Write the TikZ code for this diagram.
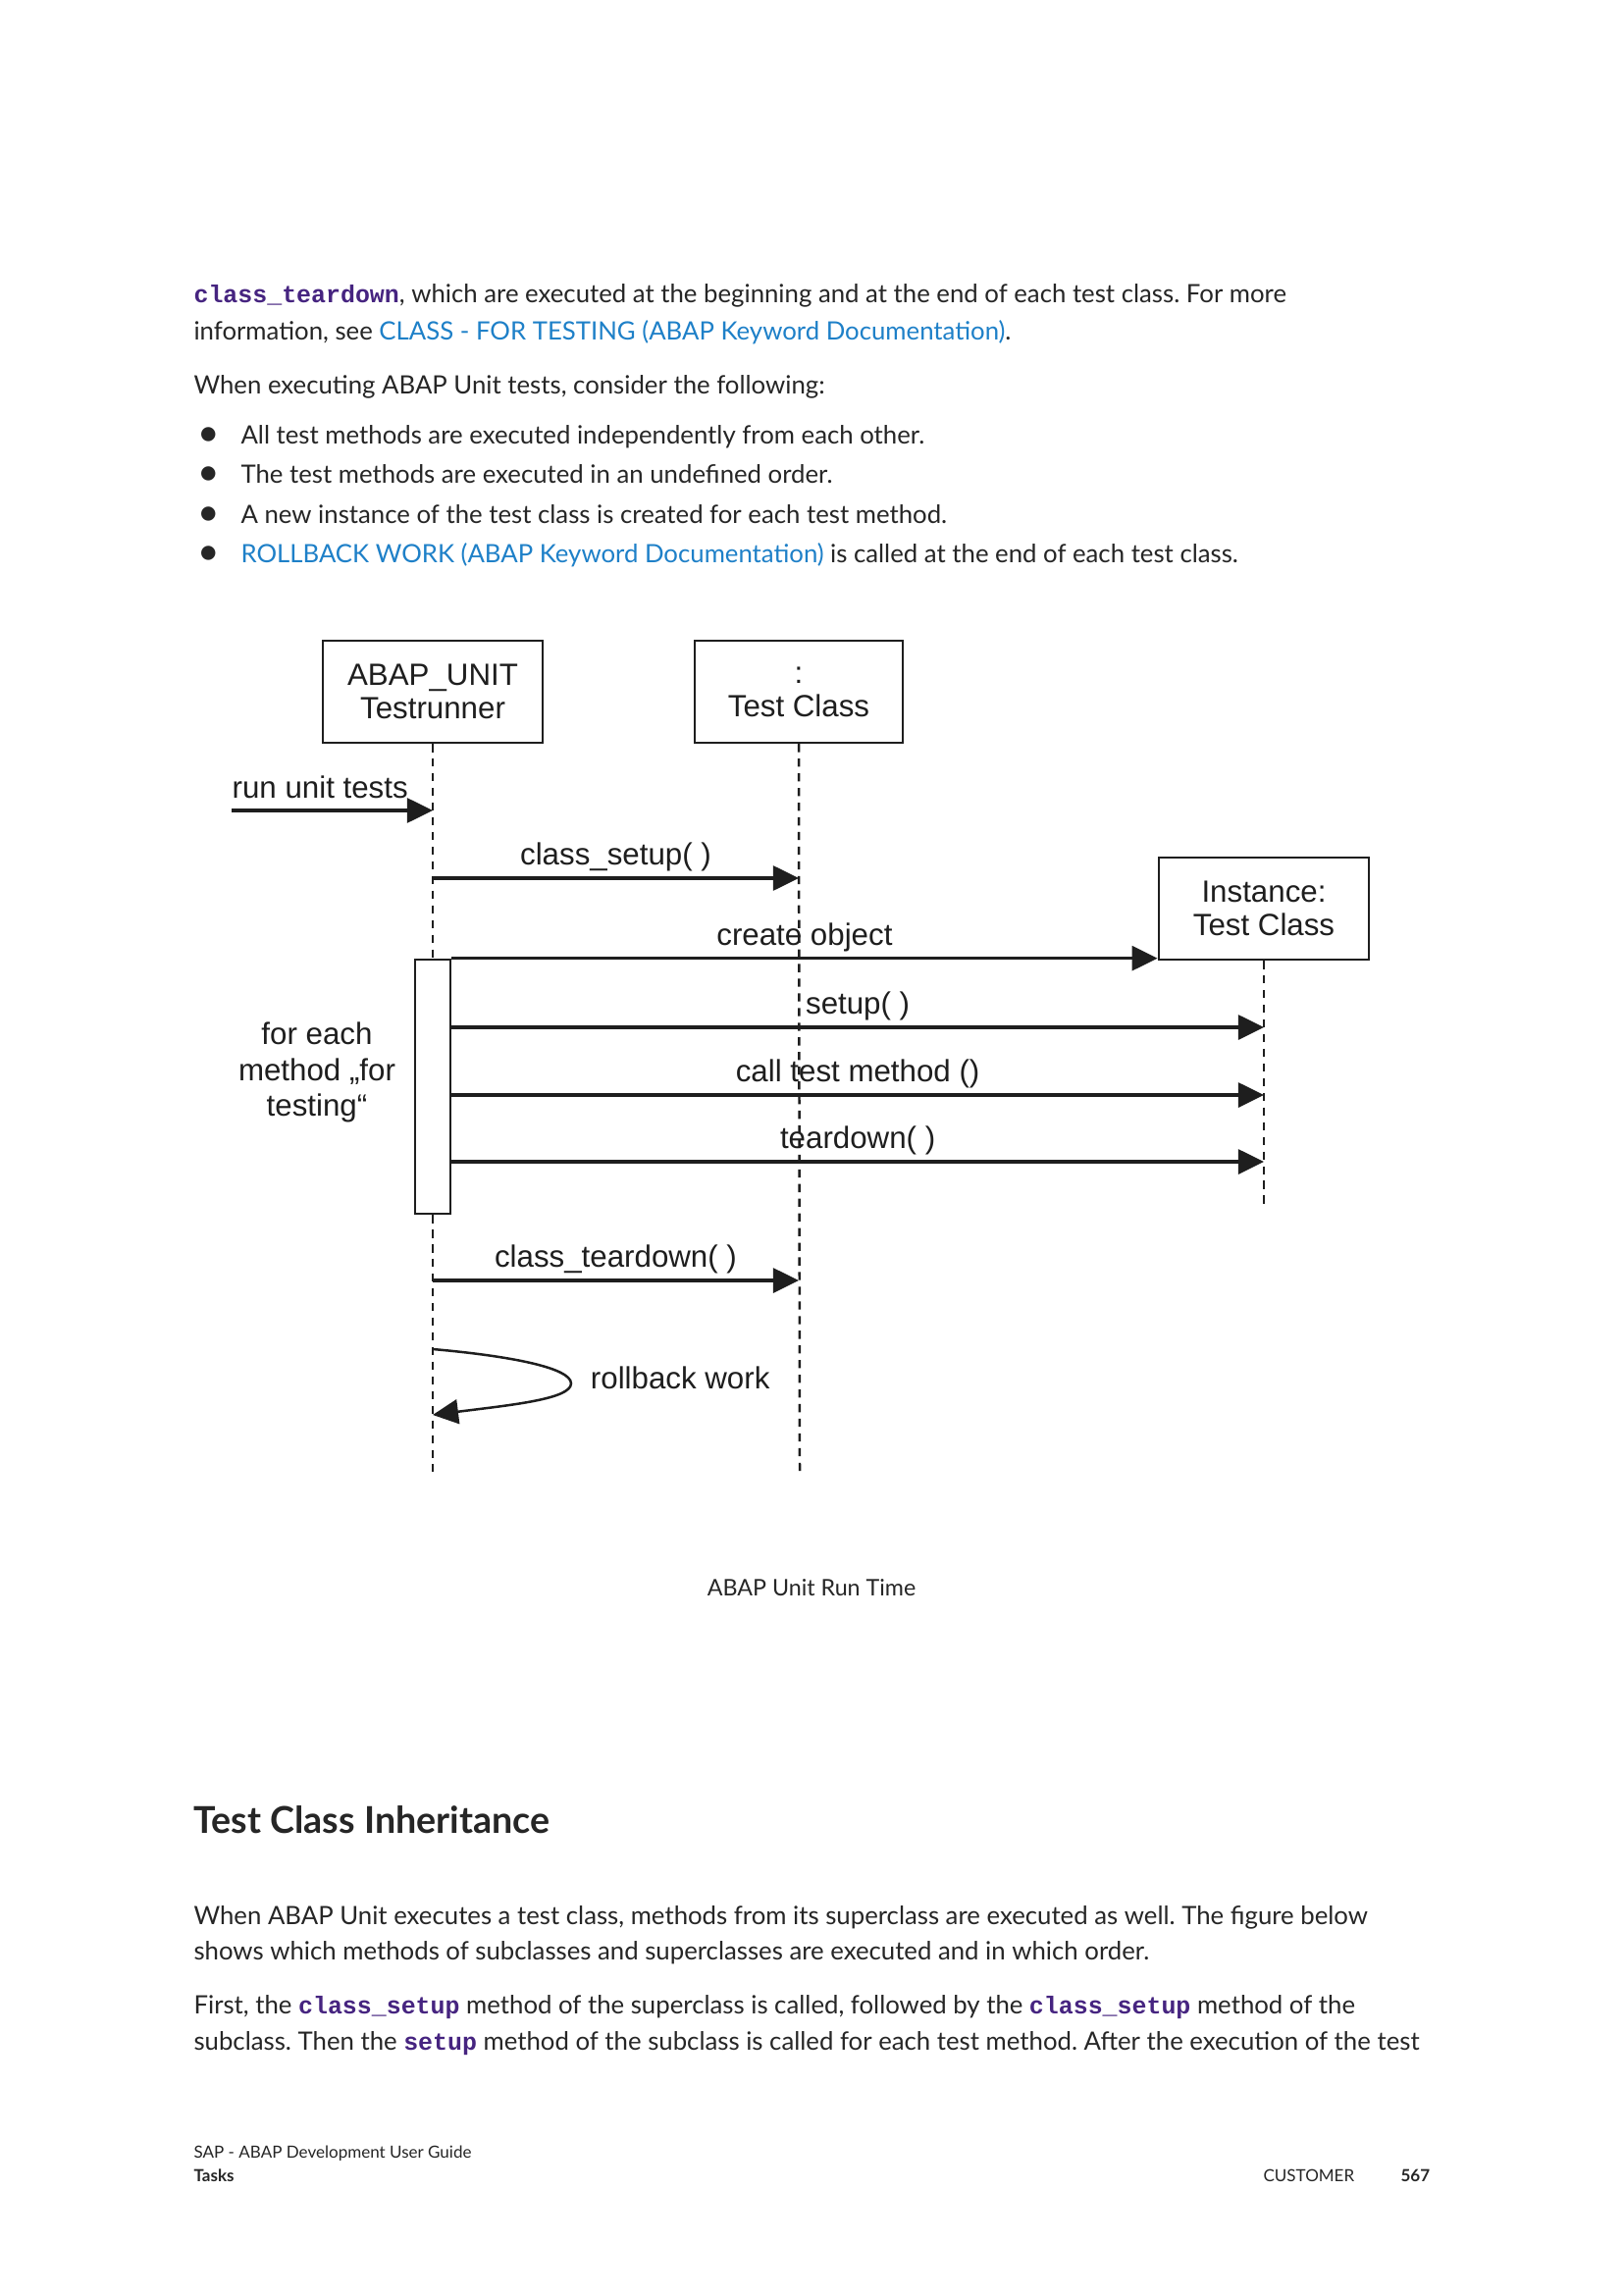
\documentclass[tikz,border=0pt]{standalone}
\usepackage{fontspec}
\setmainfont{Lato}
\newfontfamily\diafont{Liberation Sans}
\newfontfamily\codefont{Liberation Mono}
\usetikzlibrary{arrows.meta,positioning}
\definecolor{linkblue}{RGB}{30,128,200}
\definecolor{codepurple}{RGB}{70,36,128}
\definecolor{bodygray}{RGB}{38,38,38}
\definecolor{diagray}{RGB}{30,30,30}
\newcommand{\codeword}[1]{{\codefont\bfseries\fontsize{9}{11}\selectfont\color{codepurple}#1}}
\newcommand{\linkword}[1]{{\color{linkblue}#1}}
\frenchspacing
\tikzset{
    page line/.style={anchor=base west, inner sep=0pt, text=bodygray, font=\fontsize{9.3}{11}\selectfont},
    bullet dot/.style={anchor=base, inner sep=0pt, text=bodygray, font=\fontsize{14}{14}\selectfont},
    page head/.style={page line, font=\fontsize{13.6}{15}\selectfont\bfseries},
    foot line/.style={page line, font=\fontsize{6.15}{8}\selectfont},
    lifebox/.style={draw=diagray, line width=0.9pt, align=center, text=diagray, minimum height=1.32cm,
        font=\diafont\fontsize{11.3}{12.3}\selectfont},
    actbox/.style={draw=diagray, line width=0.9pt, minimum width=0.457cm, minimum height=3.29cm, inner sep=0pt},
    lifeline/.style={draw=diagray, line width=0.9pt, dash pattern=on 3pt off 2.4pt},
    msg/.style={draw=diagray, line width=1.1pt, ->},
    msglabel/.style={above, inner sep=2pt, text=diagray, font=\diafont\fontsize{11.3}{12.3}\selectfont},
    diatext/.style={align=center, inner sep=0pt, text=diagray, font=\diafont\fontsize{11.3}{13.2}\selectfont}
}
\begin{document}
\begin{tikzpicture}[x=0.0127cm, y=-0.0127cm, >={Triangle[length=9.4pt, width=9pt]}]
    \fill[white] (0,0) rectangle (1654,2339);
    \useasboundingbox (0,0) rectangle (1654,2339);

    \node[page line] (line1) at (197,309) {\codeword{class\_teardown}, which are executed at the beginning and at the end of each test class. For more};
    \node[page line] (line2) at (197,347) {information, see \linkword{CLASS - FOR TESTING (ABAP Keyword Documentation)}.};
    \node[page line] (line3) at (197,402) {When executing ABAP Unit tests, consider the following:};
    \node[bullet dot] (dot1) at (213,455) {\textbullet};
    \node[page line] (item1) at (245,453) {All test methods are executed independently from each other.};
    \node[bullet dot] (dot2) at (213,495) {\textbullet};
    \node[page line] (item2) at (245,493) {The test methods are executed in an undefined order.};
    \node[bullet dot] (dot3) at (213,536) {\textbullet};
    \node[page line] (item3) at (245,534) {A new instance of the test class is created for each test method.};
    \node[bullet dot] (dot4) at (213,576) {\textbullet};
    \node[page line] (item4) at (245,574) {\linkword{ROLLBACK WORK (ABAP Keyword Documentation)} is called at the end of each test class.};

    \node[lifebox, minimum width=2.84cm] (runner) at (441,705) {ABAP\_UNIT\\Testrunner};
    \node[lifebox, minimum width=2.69cm] (testcls) at (814,705) {:\\Test Class};
    \node[lifebox, minimum width=2.72cm] (inst) at (1288,926) {Instance:\\Test Class};
    \node[actbox] (act) at (441,1107.5) {};

    \coordinate (runstart) at (236,826);
    \coordinate (runnerend) at (441,1500);
    \coordinate (testclsend) at (815,1500);
    \coordinate (instend) at (1288,1232);
    \coordinate (csetupy) at (0,895);
    \coordinate (setupy) at (0,1047);
    \coordinate (cally) at (0,1116);
    \coordinate (tdowny) at (0,1184);
    \coordinate (ctdowny) at (0,1305);
    \coordinate (rbstart) at (441,1375);
    \coordinate (rbturn) at (582,1410);
    \coordinate (rbend) at (441,1442);

    \draw[lifeline] (runner.south) -- (act.north);
    \draw[lifeline] (act.south) -- (runnerend);
    \draw[lifeline] (testcls.south) -- (testclsend);
    \draw[lifeline] (inst.south) -- (instend);

    \draw[msg] (runstart) -- node[msglabel, pos=0.44, yshift=2pt] {run unit tests} (runstart -| runner.south);
    \draw[msg] (csetupy -| runner.south) -- node[msglabel] {class\_setup( )} (csetupy -| testcls.south);
    \draw[msg] (act.north east) -- node[msglabel] {create object} (act.north east -| inst.west);
    \draw[msg] (setupy -| act.east) -- node[msglabel] {setup( )} (setupy -| inst.south);
    \draw[msg] (cally -| act.east) -- node[msglabel] {call test method ()} (cally -| inst.south);
    \draw[msg] (tdowny -| act.east) -- node[msglabel] {teardown( )} (tdowny -| inst.south);
    \draw[msg] (ctdowny -| runner.south) -- node[msglabel] {class\_teardown( )} (ctdowny -| testcls.south);
    \draw[msg, line width=0.9pt] (rbstart) .. controls (520,1382) and (582,1394) .. (rbturn)
        .. controls (582,1426) and (520,1432) .. (rbend);

    \node[diatext, right=7pt of rbturn, yshift=2pt] (rblabel) {rollback work};
    \node[diatext] (loopnote) at (323,1093) {for each\\method „for\\testing“};

    \node[page line, anchor=base, font=\fontsize{8.4}{10}\selectfont] (caption) at (827,1626) {ABAP Unit Run Time};

    \node[page head] (heading) at (197,1868) {Test Class Inheritance};
    \node[page line] (para1) at (197,1961) {When ABAP Unit executes a test class, methods from its superclass are executed as well. The figure below};
    \node[page line] (para2) at (197,1997) {shows which methods of subclasses and superclasses are executed and in which order.};
    \node[page line] (para3) at (197,2052) {First, the \codeword{class\_setup} method of the superclass is called, followed by the \codeword{class\_setup} method of the};
    \node[page line] (para4) at (197,2089) {subclass. Then the \codeword{setup} method of the subclass is called for each test method. After the execution of the test};

    \node[foot line] (foot1) at (197,2199) {SAP - ABAP Development User Guide};
    \node[foot line, font=\fontsize{6.15}{8}\selectfont\bfseries] (foot2) at (197,2223) {Tasks};
    \node[foot line] (foot3) at (1287,2223) {CUSTOMER};
    \node[foot line, font=\fontsize{6.15}{8}\selectfont\bfseries] (foot4) at (1427,2223) {567};
\end{tikzpicture}
\end{document}
